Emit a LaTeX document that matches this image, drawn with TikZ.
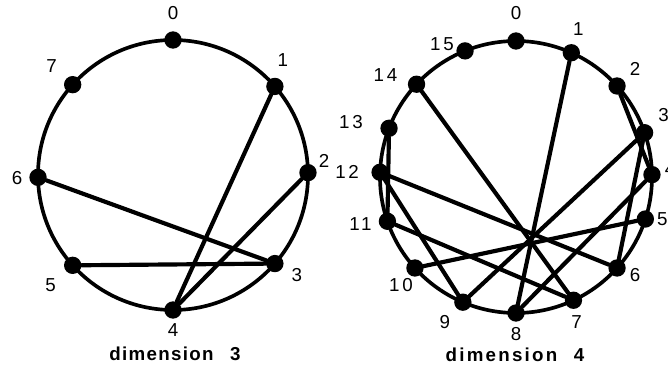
\documentclass[tikz,border=0pt]{standalone}
\usepackage{fontspec}
\setmainfont{Liberation Sans}[LetterSpace=15]
\usetikzlibrary{positioning}

\begin{document}
\begin{tikzpicture}[x=0.3mm, y=0.3mm,
    ring/.style={draw, circle, line width=1.1mm, outer sep=0pt, inner sep=0pt},
    vertex/.style={circle, fill=black, inner sep=0pt, minimum size=5.2mm},
    chord/.style={line width=1.25mm, line cap=round},
    num/.style={inner sep=0pt, font=\fontsize{16}{16}\selectfont},
    caption/.style={inner sep=0pt, font=\fontsize{16}{16}\selectfont\bfseries}]
  \useasboundingbox (0,0) rectangle (668,366);

  % dimension 3
  \node[ring, minimum size=81mm] (ringA) at (173,191) {};
  \foreach \a/\dx/\dy [count=\i from 0] in
      {90/0/27, 41/8/26, 1/16/12, -41/22/-11, -90/0/-20,
       -138/-22/-20, 181/-21/-1, 138/-21/19} {
    \node[vertex] (a\i) at (ringA.\a) {};
    \node[num] (a\i-lab) at ([shift={(\dx,\dy)}]a\i) {\i};
  }
  \foreach \u/\v in {1/4, 2/4, 6/3, 5/3}
    \draw[chord] (a\u) -- (a\v);
  \node[caption] (capA) at (175,12)
    {\addfontfeature{LetterSpace=7}dimension\hspace{5mm}3};

  % dimension 4
  \node[ring, minimum size=81.6mm] (ringB) at (516,189) {};
  \foreach \a/\dx/\dy [count=\i from 0] in
      {90/0/28, 66/7/24, 42/18/17, 19/19/18, 1/18/6,
       -18/17/0, -42/18/-7, -65/3/-22, -90/0/-21, -113/-18/-20,
       -138/-14/-17, -161/-27/-3, 178/-33/0, 159/-38/6, 137/-31/9,
       112/-23/7} {
    \node[vertex] (b\i) at (ringB.\a) {};
    \node[num] (b\i-lab) at ([shift={(\dx,\dy)}]b\i) {\i};
  }
  \foreach \u/\v in {2/4, 13/11, 3/6, 12/9, 1/8, 14/7, 4/8, 11/7,
                     3/9, 12/6, 5/10}
    \draw[chord] (b\u) -- (b\v);
  \node[caption] (capB) at (515,11)
    {\addfontfeature{LetterSpace=12}dimension\hspace{5mm}4};
\end{tikzpicture}
\end{document}
